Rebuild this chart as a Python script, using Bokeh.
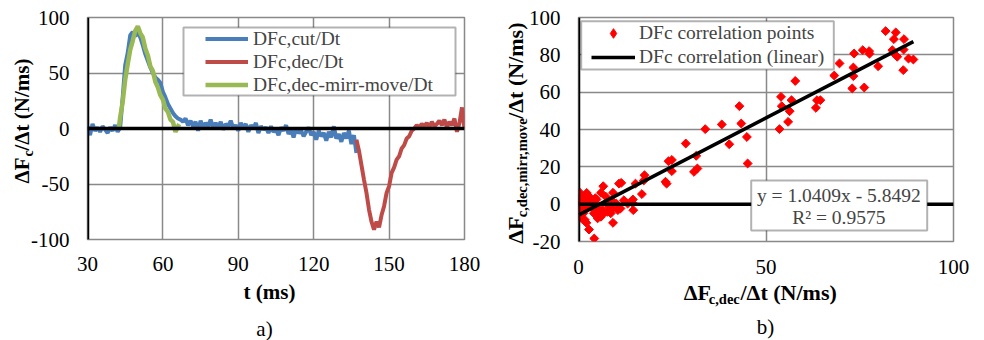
import math
from bokeh.plotting import figure
from bokeh.models import (Range1d, FixedTicker, Span, Label, BoxAnnotation,
                          Legend, LegendItem, GridBox)
from bokeh.embed import file_html
from bokeh.resources import INLINE

# ---------------- data: panel a) ----------------
cut_t = list(range(30, 138))
cut_v = [2, -6, 4, -2, 1, -3, 2, -1, -4, 1, -2, 3, -3, 1,
         28, 57, 68, 84, 87, 83, 87, 82, 75, 67, 61, 55, 50, 46, 44, 41,
         33, 28, 22, 18, 14, 11, 9, 8, 6, 9,
         3, 7, 2, 6, -2, 7, 1, 5, 2, 8, 0, 5, 1, 6, -1, 4, 2, 7, 0, 3,
         -2, 5, 1, 4, -3, 3, 0, 5, -4, 2, -1, 1, -4, 2, -3, -1, -6, 1, -2, 3,
         -5, -1, -8, 0, -4, -2, -7, -3, 1, -6, -3, -10, -2, -7, -4, -11, -3, -8, 2, -9,
         -5, -12, -4, -9, -2, -14, -6, -22]

dec_t = list(range(137, 181))
dec_v = [-10, -20, -33, -46, -58, -73, -84, -91, -84, -89, -78, -70, -58, -52,
         -40, -35, -28, -25, -18, -15, -9, -7, -2, 0, 3, 1, 4, 2, 5, 1, 6, 2, 4,
         7, 3, 8, 1, 6, 3, 9, -3, 5, 19, 0]

mir_t = [42.5, 43, 44, 45, 46, 47, 48, 49, 50, 51, 52, 53, 54, 55, 56, 57, 58,
         59, 60, 61, 62, 63, 64, 65, 66, 66.5]
mir_v = [1, 10, 24, 44, 58, 71, 79, 88, 92, 86, 82, 72, 66, 56, 52, 42, 37,
         30, 26, 18, 15, 8, 6, -3, 2, 4]

a_xticks = [30, 60, 90, 120, 150, 180]
a_yticks = [-100, -50, 0, 50, 100]

# ---------------- data: panel b) ----------------
pts_x = [81.9, 84.6, 84.1, 86.8, 83.7, 86.7, 84.6, 85.0, 88.0, 89.3, 86.6, 79.9,
         75.8, 77.5, 77.6, 73.5, 73.3, 73.3, 73.0, 76.2, 69.6, 68.2, 57.8, 54.0,
         54.2, 56.8, 56.3, 55.9, 53.6, 63.3, 63.6, 64.5, 42.9, 43.4, 38.2, 33.8,
         40.2, 44.9, 45.1, 28.6, 31.4, 30.8, 31.7, 24.0, 24.9, 24.9, 23.2, 23.5,
         17.6, 17.4, 16.9, 15.2, 14.5, 14.6, 14.4, 11.4, 10.8, 12.1, 13.1, 9.2,
         9.2, 10.1, 10.5, 9.2, 6.6, 6.0, 7.3, 7.7, 8.1, 6.4, 5.5, 5.1, 6.6, 8.6,
         4.5, 4.1, 4.5, 4.1, 4.2, 2.8, 2.4, 1.9, 2.4, 1.7, 2.1, 0.8, 0.4, 1.3,
         0.3, 0.1, 0.8, 1.3, 3.1, 4.8, 4.8, 5.5, 6.0, 4.4, 7.7, 9.0, 11.2, 0.8,
         3.1, 1.8, 0.4, 0.8, 2.7, 2.2, 0.2]
pts_y = [92.7, 92.0, 88.4, 88.4, 82.5, 82.8, 79.8, 79.0, 78.0, 77.5, 71.8, 73.9,
         82.5, 82.0, 80.6, 80.7, 73.2, 68.6, 62.0, 62.5, 75.4, 68.9, 66.0, 57.5,
         52.5, 55.7, 49.8, 44.1, 40.2, 51.6, 55.7, 55.7, 52.5, 43.2, 42.7, 40.2,
         32.1, 36.0, 21.8, 32.5, 25.9, 17.3, 19.1, 23.0, 23.7, 17.7, 12.0, 11.0,
         15.5, 12.7, 5.4, 11.0, 2.5, -3.2, 0.7, 11.4, 11.0, 2.1, 0.3, 6.1,
         1.3, 0.3, -3.2, -10.0, 9.6, 6.1, 4.0, 1.3, -1.4, -3.2, -5.9, -7.6, -4.9, -4.9,
         3.2, 1.3, -2.3, -4.9, -18.4, -13.6, 4.9, 2.2, -0.5, -8.4, -10.0, -7.6, -4.9, -4.9,
         6.3, 2.2, 1.3, -2.3, 0.3, 2.5, -1.4, -3.2, -6.7, -3.6, -4.1, -2.3, -2.3, 4.0,
         3.6, -1.4, -0.5, -2.3, 2.2, 6.0, 1.0]
fit_slope = 1.0409
fit_intercept = -5.8492
fit_r2 = 0.9575

b_xticks = [0, 50, 100]
b_yticks = [-20, 0, 20, 40, 60, 80, 100]

# ---------------- styling ----------------
SERIF = "Liberation Serif"
GRID = "#898989"
BLUE = "#4A7EBB"
RED = "#BE4B48"
GREEN = "#98B954"


def no_align(p):
    try:
        p.frame_align = False
    except Exception:
        pass


def style(p, xt, yt, xstand):
    p.xaxis.ticker = FixedTicker(ticks=xt)
    p.yaxis.ticker = FixedTicker(ticks=yt)
    p.xgrid.ticker = FixedTicker(ticks=xt)
    p.ygrid.ticker = FixedTicker(ticks=yt)
    p.xaxis.major_label_overrides = {t: "%d" % t for t in xt}
    p.yaxis.major_label_overrides = {t: "%d" % t for t in yt}
    for ax in (p.xaxis, p.yaxis):
        ax.axis_line_color = None
        ax.major_tick_in = 0
        ax.major_tick_out = 0
        ax.minor_tick_in = 0
        ax.minor_tick_out = 0
        ax.major_label_text_font = SERIF
        ax.major_label_text_font_size = "21px"
        ax.major_label_text_color = "black"
    p.xaxis.major_label_standoff = xstand
    p.yaxis.major_label_standoff = 18
    p.grid.grid_line_color = GRID
    p.grid.grid_line_width = 1.5
    p.outline_line_color = GRID
    p.outline_line_width = 1.5
    p.background_fill_color = "white"
    p.border_fill_color = "white"
    no_align(p)


# ---------------- panel a ----------------
p1 = figure(width=490, height=340, x_range=Range1d(30, 180), y_range=Range1d(-100, 100),
            output_backend="svg", toolbar_location=None,
            min_border_left=87, min_border_right=26, min_border_top=17, min_border_bottom=101)
style(p1, a_xticks, a_yticks, 17)


def lx(px):
    return 30 + (px - 87) * 150 / 377


def ly(py):
    return 100 - (py - 17) * 200 / 222


p1.add_layout(Span(location=0, dimension="width", line_color="black", line_width=3.5))
p1.add_layout(Span(location=30, dimension="height", line_color="black", line_width=3.5))
r_cut = p1.line(cut_t, cut_v, line_color=BLUE, line_width=4)
r_dec = p1.line(dec_t, dec_v, line_color=RED, line_width=4)
r_mir = p1.line(mir_t, mir_v, line_color=GREEN, line_width=4.5)

p1.add_layout(BoxAnnotation(left=lx(183), right=lx(455), top=ly(27), bottom=ly(95),
                            fill_color="white", fill_alpha=1, line_color="black",
                            line_width=2))
leg1 = Legend(items=[LegendItem(label="DFc,cut/Dt", renderers=[r_cut]),
                     LegendItem(label="DFc,dec/Dt", renderers=[r_dec]),
                     LegendItem(label="DFc,dec-mirr-move/Dt", renderers=[r_mir])],
              location=(118, 143), padding=0, spacing=0, margin=0,
              glyph_width=43, glyph_height=23, label_height=23, label_standoff=5,
              label_text_font=SERIF, label_text_font_size="19.5px",
              border_line_color=None, background_fill_alpha=0)
p1.add_layout(leg1)

# ---------------- panel b ----------------
p2 = figure(width=494, height=340, x_range=Range1d(0, 100), y_range=Range1d(-20, 100),
            output_backend="svg", toolbar_location=None,
            min_border_left=88, min_border_right=31, min_border_top=17, min_border_bottom=99)
style(p2, b_xticks, b_yticks, 18)


def rx(px):
    return (px - 578) * 100 / 375


def ry(py):
    return 100 - (py - 17) * 120 / 224


p2.add_layout(Span(location=0, dimension="width", line_color="black", line_width=3.5))
p2.add_layout(Span(location=0, dimension="height", line_color="black", line_width=3.5))
r_pts = p2.scatter(pts_x, pts_y, marker="square", size=6.3, angle=math.pi / 4,
                   fill_color="#FF0000", line_color="#FF0000", line_width=1)
r_pts_key = p2.scatter([float("nan")], [float("nan")], marker="diamond", size=11,
                       fill_color="#FF0000", line_color="#FF0000", line_width=1)
fit_x = [min(pts_x), max(pts_x)]
fit_y = [fit_slope * v + fit_intercept for v in fit_x]
r_fit = p2.line(fit_x, fit_y, line_color="black", line_width=3.5)

p2.add_layout(BoxAnnotation(left=rx(580.7), right=rx(833.3), top=ry(20.7), bottom=ry(69),
                            fill_color="white", fill_alpha=1, line_color="black",
                            line_width=2))
leg2 = Legend(items=[LegendItem(label="DFc correlation points", renderers=[r_pts_key]),
                     LegendItem(label="DFc correlation (linear)", renderers=[r_fit])],
              location=(13, 172), padding=0, spacing=0, margin=0,
              glyph_width=44, glyph_height=24, label_height=24, label_standoff=4,
              label_text_font=SERIF, label_text_font_size="19.5px",
              border_line_color=None, background_fill_alpha=0)
p2.add_layout(leg2)

p2.add_layout(BoxAnnotation(left=rx(750.7), right=rx(926.7), top=ry(180), bottom=ry(230),
                            fill_color="white", fill_alpha=1, line_color="black",
                            line_width=2))
p2.add_layout(Label(x=rx(838.3), y=ry(195), text="y = %.4fx - %.4f" % (fit_slope, -fit_intercept),
                    text_font=SERIF, text_font_size="19.5px", text_align="center",
                    text_baseline="middle"))
p2.add_layout(Label(x=rx(838.3), y=ry(216.7), text="R² = %.4f" % fit_r2,
                    text_font=SERIF, text_font_size="19.5px", text_align="center",
                    text_baseline="middle"))

# ---------------- transparent overlay for outer titles ----------------
ov = figure(width=984, height=340, x_range=Range1d(0, 984), y_range=Range1d(340, 0),
            output_backend="svg", toolbar_location=None, min_border=0,
            x_axis_type=None, y_axis_type=None)
ov.outline_line_color = None
ov.background_fill_color = None
ov.border_fill_color = None
ov.xgrid.visible = False
ov.ygrid.visible = False
no_align(ov)


def lbl(px, py, text, size="21px", bold=True, angle=0.0, align="left"):
    ov.add_layout(Label(x=px, y=py, text=text, angle=angle, text_align=align,
                        text_baseline="middle", text_font=SERIF,
                        text_font_style="bold" if bold else "normal",
                        text_font_size=size, text_color="black"))


UP = math.pi / 2
# panel a titles
lbl(21.7, 183, "ΔF", angle=UP)
lbl(27.5, 156, "c", size="14px", angle=UP)
lbl(21.7, 150, "/Δt (N/ms)", angle=UP)
lbl(269, 291.7, "t (ms)", align="center")
lbl(264, 328, "a)", bold=False, align="center")
# panel b titles
lbl(515, 243.3, "ΔF", size="22px", angle=UP)
lbl(521.7, 216.7, "c,dec,mirr,move", size="14.5px", angle=UP)
lbl(515, 118.3, "/Δt (N/ms)", size="22px", angle=UP)
lbl(683.3, 291.7, "ΔF", size="22px")
lbl(708.3, 298, "c,dec", size="14.5px")
lbl(740, 291.7, "/Δt (N/ms)", size="22px")
lbl(765, 326.7, "b)", bold=False, align="center")

layout = GridBox(children=[(p1, 0, 0), (p2, 0, 1), (ov, 0, 0, 1, 2)], spacing=0)
open("out.html", "w").write(file_html(layout, INLINE))
